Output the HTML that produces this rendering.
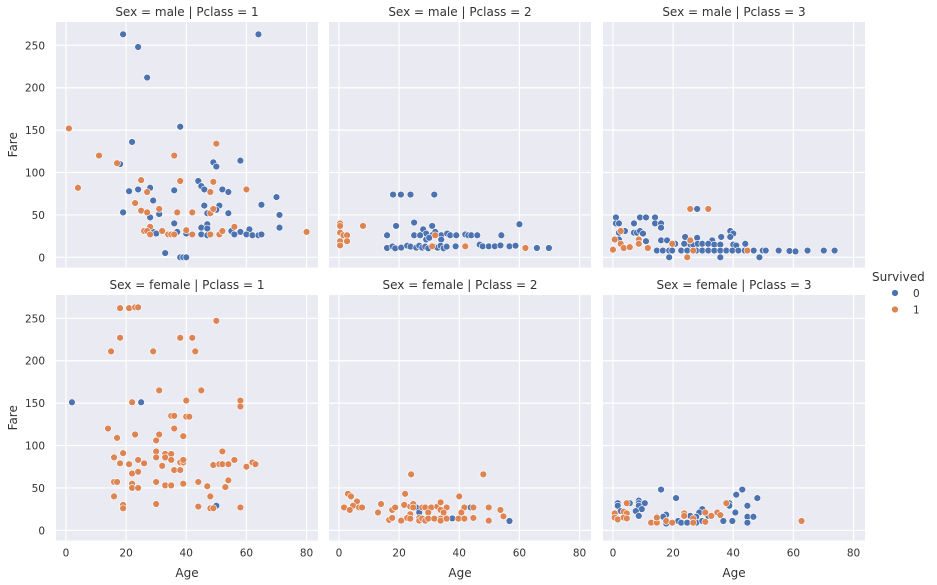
<!DOCTYPE html>
<html><head><meta charset="utf-8"><style>
body{margin:0;background:#fff;}
svg{display:block;font-family:"DejaVu Sans","Liberation Sans",sans-serif;}
</style></head><body>
<svg id="chart" width="937" height="585" viewBox="0 0 937 585"></svg>
<script>
const xTicks=[0,20,40,60,80];
const yTicks=[0,50,100,150,200,250];
const xDomain=[-3.3,83.8];
const yDomain=[-12,277.5];
const rowValues=['male','female'];
const colValues=[1,2,3];
const legendLabels=['0','1'];
const colors=['#4c72b0','#dd8452'];

const male1Died=[[19,263],[24,248],[27,212],[64,263],[38,154],[22,136],[18,110],[58,114],[49,112],[50,107],[44,90],[45,84],[46,80],[28,82],[24,80],[21,78],[36,79],[52,80],[54,77],[70,71],[65,62],[29,67],[46,61],[51,61],[47,52],[50,56],[54,52],[71,50],[19,53],[31,51],[28,47],[36,40],[47,39],[45,35],[47,34],[71,35],[61,33],[55,31],[58,30],[29,30],[30,28],[37,30],[40,28],[45,27],[47,26],[56,27],[60,27],[62,26],[64,26],[65,27],[33,5],[38,0],[39,0],[40,0]];
const male1Survived=[[1,152],[11,120],[17,111],[4,82],[50,134],[36,120],[25,91],[38,90],[49,89],[27,77],[48,77],[60,80],[23,64],[25,55],[31,57],[27,53],[37,53],[42,53],[48,52],[49,57],[56,36],[28,36],[26,31],[27,31],[32,31],[40,32],[28,27],[34,27],[35,27],[36,27],[42,27],[48,27],[51,27],[52,31],[80,30]];
const male2Died=[[18,74],[20.6,74],[23.8,74],[31.7,74],[19,37],[25,41],[31,37],[60,39],[28,33],[32,30],[29,28],[31,26],[16,26],[25,26],[27,26],[34,26],[36,28],[37,26],[39,26],[42,27],[43,26],[44,26],[46,26],[54,26],[29,21],[30,23],[34,21],[16,11],[17.8,12.8],[18.7,10.6],[20.7,11.4],[22.7,13.7],[23.8,12.6],[25.7,11.4],[26.7,13.7],[27.7,11.4],[28.7,12.6],[29.7,10.6],[31.7,12.6],[32.8,11.4],[33.8,13.7],[34.8,10.6],[35.8,12.6],[38.8,13],[46.8,15],[47.8,13],[49.8,13],[51.8,13],[53.7,14],[56.7,13],[58.7,13.7],[65.8,11],[69.8,11]];
const male2Survived=[[0.4,40],[0.4,37],[0.4,29],[1.5,26],[2.7,26],[0.4,19],[2.7,19],[0.4,14],[8,37],[32,26],[31,13],[42,13],[62,11]];
const male3Died=[[1,47],[1,40],[2,40],[2,29],[4,31],[7,40],[9,47],[11,47],[14,47],[14,40],[16,40],[16,35],[7,29],[8,29],[9,31],[10,28],[2,21],[11,19],[16,20],[18,20],[28,57],[24,24],[28,23],[33,20],[36,24],[39,31],[40,28],[39,24],[20.7,16],[23.7,16],[25.8,15],[26.7,15],[28.2,16],[29.7,16],[31.7,16],[33.7,15],[35.7,15],[40,15],[41,14],[44,16],[14.6,8],[16.6,8],[18.7,8],[19.7,8],[22.7,8],[24.7,8],[27.7,8],[29.7,8],[31.7,8],[33.7,8],[35.7,8],[37.7,8],[39.7,8],[41.7,8],[43.8,8],[46.8,8],[49.8,8],[50.8,8],[55.1,8],[58.7,7.5],[60.7,7],[64.7,8],[70.1,8],[73.7,8],[18.7,0],[35.7,0],[48.7,0]];
const male3Survived=[[25.7,57],[31.7,57],[2.6,31],[0.6,21],[2.6,16],[3.6,11],[5.6,12],[8.6,21],[8.6,16],[11.6,11],[0,9],[19.7,16],[25.7,20],[26.7,8],[24.7,0],[44.7,8]];
const female1Died=[[2,151],[25,151],[50,29]];
const female1Survived=[[18,262],[21,262],[23,263],[24,263],[50,247],[18,227],[38,227],[42,227],[15,211],[29,211],[43,211],[31,165],[45,165],[22,151],[40,153],[58,153],[58,146],[35,135],[36,135],[40,134],[41,134],[14,120],[36,120],[17,109],[23,113],[31,113],[39,111],[30,106],[30,93],[52,93],[16,86],[19,91],[30,86],[33,90],[35,90],[33,86],[35,83],[18,79],[21,78],[24,83],[26,79],[32,76],[38,80],[39,80],[39,83],[49,77],[51,78],[52,78],[54,78],[56,83],[60,75],[62,80],[63,78],[22,67],[24,69],[36,71],[38,71],[16,57],[17,57],[22,55],[22,50],[24,50],[30,57],[33,53],[35,52],[35,53],[39,55],[44,57],[47,52],[54,59],[53,51],[16,40],[48,40],[19,30],[19,26],[30,31],[44,28],[48,26],[49,26],[58,27]];
const female2Died=[[25.7,27],[26.7,21],[37.7,14],[43.8,27],[56.7,11]];
const female2Survived=[[24,66],[48,66],[3,43],[4,40],[22,43],[40,40],[6,34],[14,31],[4.7,29],[6.7,27],[7.7,27],[1.7,27],[3.6,24],[13,21],[17.7,24],[18.7,27],[21.7,30],[23.7,28],[24.7,31],[24.7,27],[27.7,27],[28.7,27],[30.7,27],[32.7,28],[33.8,33],[35.8,27],[29.7,21],[33.8,24],[34.8,21],[23.7,19],[41.7,27],[44.7,27],[49.8,27],[40.7,21],[53.7,24],[54.7,16.5],[16.7,12.2],[17.7,14.6],[20.7,11.4],[22.7,14.6],[23.7,13.8],[26.7,14.6],[26.7,11.4],[27.7,13.8],[28.7,11.4],[29.7,13.8],[31.7,13.8],[33.8,13.8],[33.8,11.4],[35.8,13.8],[39.7,13.8],[41.7,13.8],[44.7,14.6],[49.8,11.4]];
const female3Died=[[16,48],[43,48],[21,38],[48,38],[41,42],[1.6,32],[1.6,29],[5.6,32],[8.6,35],[8.6,32],[10.6,32],[8.6,29],[9.6,25],[38.7,32],[38.7,29],[44.7,29],[2.6,22.7],[7.6,22.7],[8.6,17],[1.6,12],[29.7,25],[28.7,21],[31.7,17],[25.7,17],[27.7,16],[17.7,18.5],[16.7,16],[14.6,16],[40.7,21],[44.7,16],[46.7,16],[36.7,11],[39.7,11],[44.7,9],[19.7,9],[21.7,11],[22.7,9],[24.7,9],[27.7,9],[29.7,11],[17.7,8]];
const female3Survived=[[4.6,32],[37.7,32],[0.6,20],[3.6,22],[4.6,20],[0.6,15],[1.6,13],[3.6,15],[4.6,14],[23.7,20],[23.7,17],[26.7,14],[30.7,21],[32.7,17],[34.7,21],[35.7,18],[12.7,9],[14.6,9],[14.6,15],[17.7,11],[19.7,9],[26.7,9],[30.7,10],[62.7,11]];

const panelData=[[[male1Died,male1Survived],[male2Died,male2Survived],[male3Died,male3Survived]],
                 [[female1Died,female1Survived],[female2Died,female2Survived],[female3Died,female3Survived]]];

const NS='http://www.w3.org/2000/svg';
const svg=document.getElementById('chart');
function mk(tag,attrs,parent){const e=document.createElementNS(NS,tag);for(const k in attrs)e.setAttribute(k,attrs[k]);(parent||svg).appendChild(e);return e;}
const panelLeft=[56,329,603], panelW=262, panelTop=[22,295], panelH=245.5;
function xScale(c,v){return panelLeft[c]+(v-xDomain[0])/(xDomain[1]-xDomain[0])*panelW;}
function yScale(r,v){return panelTop[r]+panelH-(v-yDomain[0])/(yDomain[1]-yDomain[0])*panelH;}

for(let r=0;r<2;r++){for(let c=0;c<3;c++){
  const g=mk('g',{});
  
  
  const bg=mk('rect',{x:panelLeft[c],y:panelTop[r],width:panelW,height:panelH,fill:'#eaeaf2'},g);
  
  
  xTicks.forEach(t=>{const x=xScale(c,t);const l=mk('line',{x1:x,x2:x,y1:panelTop[r],y2:panelTop[r]+panelH,stroke:'#fff','stroke-width':1.2},g);
    
    if(r===1){const tx=mk('text',{x:x,y:panelTop[r]+panelH+16,'text-anchor':'middle','font-size':10.5,fill:'#333'},g);tx.textContent=t;
      }});
  yTicks.forEach(t=>{const y=yScale(r,t);const l=mk('line',{x1:panelLeft[c],x2:panelLeft[c]+panelW,y1:y,y2:y,stroke:'#fff','stroke-width':1.2},g);
    
    if(c===0){const tx=mk('text',{x:45,y:y+4,'text-anchor':'end','font-size':10.5,fill:'#333'},g);tx.textContent=t;
      }});
  const title=mk('text',{x:panelLeft[c]+panelW/2,y:panelTop[r]-6,'text-anchor':'middle','font-size':12,fill:'#333'},g);
  title.textContent='Sex = '+rowValues[r]+' | Pclass = '+colValues[c];
  
  for(let s=0;s<2;s++){panelData[r][c][s].forEach(p=>{
    const pt=mk('circle',{cx:xScale(c,p[0]),cy:yScale(r,p[1]),r:3.4,fill:colors[s],stroke:'#fff','stroke-width':0.6},g);
    
    
  });}
  if(r===1){const al=mk('text',{x:panelLeft[c]+panelW/2,y:577,'text-anchor':'middle','font-size':12,fill:'#333'},g);al.textContent='Age';
    }
  if(c===0){const cy=panelTop[r]+panelH/2;const yl=mk('text',{x:17,y:cy,'text-anchor':'middle','font-size':12,fill:'#333',transform:'rotate(-90 17 '+cy+')'},g);yl.textContent='Fare';
    }
}}
const lg=mk('g',{});


const lt=mk('text',{x:872,y:281,'font-size':12,fill:'#333'},lg);lt.textContent='Survived';

legendLabels.forEach((lab,i)=>{
  const y=293+i*16.5;
  const d=mk('circle',{cx:895,cy:y,r:3.4,fill:colors[i],stroke:'#fff','stroke-width':0.6},lg);
  
  const t=mk('text',{x:913,y:y+4,'font-size':10.5,fill:'#333'},lg);t.textContent=lab;
  
});
</script>
</body></html>
